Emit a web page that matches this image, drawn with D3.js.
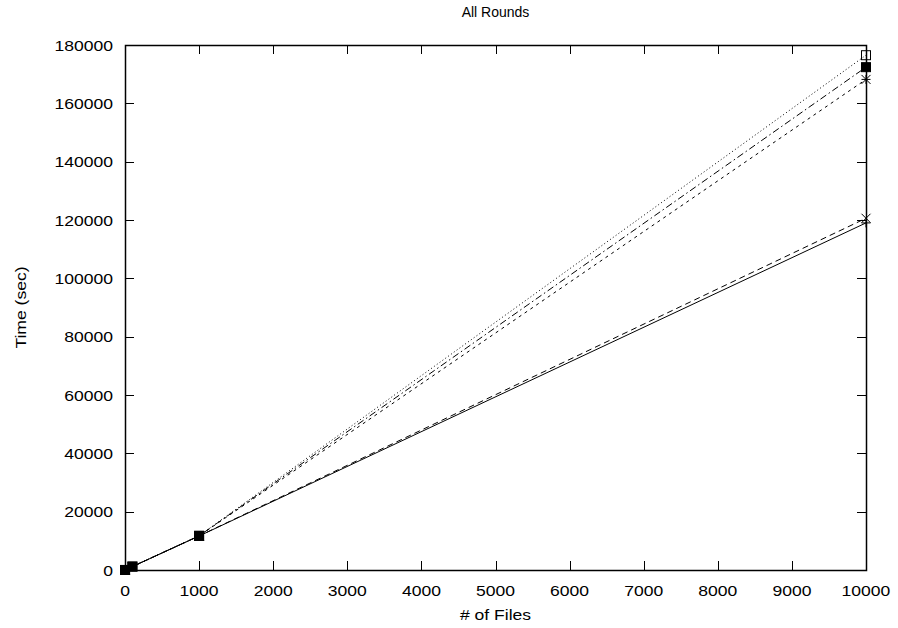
<!DOCTYPE html>
<html>
<head>
<meta charset="utf-8">
<script src="https://cdn.jsdelivr.net/npm/d3@7"></script>
<style>
  body { margin: 0; background: #fff; }
  svg { display: block; font-family: "Liberation Sans", Arial, Helvetica, sans-serif; }
</style>
</head>
<body>
<svg id="chart" width="898" height="628"></svg>
<script>
// Number of files processed in each run
const files = [1, 100, 1000, 10000];

// Total time (sec) for each configuration
const seriesA = [12, 1170, 11650, 119000];
const seriesB = [12, 1170, 11680, 120600];
const seriesC = [12, 1180, 11700, 168200];
const seriesD = [12, 1180, 11720, 176500];
const seriesE = [12, 1180, 11710, 172400];

const xTicks = [0, 1000, 2000, 3000, 4000, 5000, 6000, 7000, 8000, 9000, 10000];
const yTicks = [0, 20000, 40000, 60000, 80000, 100000, 120000, 140000, 160000, 180000];

const series = [
  { values: seriesA, dash: null,          marker: "plus" },
  { values: seriesB, dash: "6,4",         marker: "cross" },
  { values: seriesC, dash: "3,4",         marker: "star" },
  { values: seriesD, dash: "1,2.5",       marker: "box" },
  { values: seriesE, dash: "7,3,1.5,3",   marker: "filledBox" }
];

const svg = d3.select("#chart");
const plotL = 125, plotR = 866, plotT = 45, plotB = 570;
const fontSize = 15, stretch = 1.17;   // slightly wide lettering

const x = d3.scaleLinear().domain([0, 10000]).range([plotL, plotR]);
const y = d3.scaleLinear().domain([0, 180000]).range([plotB, plotT]);

// Tick marks pointing inward on all four sides
const tickLen = 9;
const g = svg.append("g").attr("stroke", "#000").attr("stroke-width", 1);
xTicks.forEach(t => {
  const px = Math.round(x(t)) + 0.5;
  g.append("line").attr("x1", px).attr("x2", px).attr("y1", plotB).attr("y2", plotB - tickLen);
  g.append("line").attr("x1", px).attr("x2", px).attr("y1", plotT).attr("y2", plotT + tickLen);
});
yTicks.forEach(t => {
  const py = Math.round(y(t)) + 0.5;
  g.append("line").attr("x1", plotL).attr("x2", plotL + tickLen).attr("y1", py).attr("y2", py);
  g.append("line").attr("x1", plotR).attr("x2", plotR - tickLen).attr("y1", py).attr("y2", py);
});

// Tick labels
svg.append("g").selectAll("text").data(xTicks).join("text")
  .attr("transform", d => `translate(${x(d)},${plotB + 26}) scale(${stretch},1)`)
  .attr("text-anchor", "middle").attr("font-size", fontSize).text(d => d);
svg.append("g").selectAll("text").data(yTicks).join("text")
  .attr("transform", d => `translate(${plotL - 12},${y(d) + 5.5}) scale(${stretch},1)`)
  .attr("text-anchor", "end").attr("font-size", fontSize).text(d => d);

// Series lines
const line = d3.line().x((d, i) => x(files[i])).y(d => y(d));
const plot = svg.append("g");
series.forEach(s => {
  plot.append("path")
    .attr("d", line(s.values))
    .attr("fill", "none")
    .attr("stroke", "#000")
    .attr("stroke-width", 1)
    .attr("stroke-dasharray", s.dash);
});

// Point markers
const r = 4.5;
series.forEach(s => {
  s.values.forEach((v, i) => {
    const cx = x(files[i]), cy = y(v);
    const m = plot.append("g").attr("transform", `translate(${cx},${cy})`)
      .attr("stroke", "#000").attr("stroke-width", 1).attr("fill", "none");
    if (s.marker === "plus") {
      m.append("path").attr("d", `M${-r},0H${r}M0,${-r}V${r}`);
    } else if (s.marker === "cross") {
      m.append("path").attr("d", `M${-r},${-r}L${r},${r}M${-r},${r}L${r},${-r}`);
    } else if (s.marker === "star") {
      m.append("path").attr("d", `M${-r},0H${r}M0,${-r}V${r}M${-r},${-r}L${r},${r}M${-r},${r}L${r},${-r}`);
    } else if (s.marker === "box") {
      m.append("rect").attr("x", -r).attr("y", -r).attr("width", 2 * r).attr("height", 2 * r);
    } else if (s.marker === "filledBox") {
      m.append("rect").attr("x", -r).attr("y", -r).attr("width", 2 * r).attr("height", 2 * r).attr("fill", "#000");
    }
  });
});

// Frame
svg.append("rect")
  .attr("x", plotL + 0.5).attr("y", plotT + 0.5)
  .attr("width", plotR - plotL).attr("height", plotB - plotT)
  .attr("fill", "none").attr("stroke", "#000").attr("stroke-width", 1.5);

// Titles
svg.append("text").attr("x", (plotL + plotR) / 2).attr("y", 17)
  .attr("text-anchor", "middle").attr("font-size", 14).text("All Rounds");
svg.append("text")
  .attr("transform", `translate(${(plotL + plotR) / 2},620) scale(${stretch},1)`)
  .attr("text-anchor", "middle").attr("font-size", fontSize).text("# of Files");
svg.append("text")
  .attr("transform", `translate(26,${(plotT + plotB) / 2}) rotate(-90) scale(${stretch},1)`)
  .attr("text-anchor", "middle").attr("font-size", fontSize).text("Time (sec)");
</script>
</body>
</html>
